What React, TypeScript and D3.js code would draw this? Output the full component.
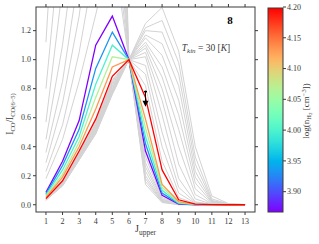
import React from "react";
import * as d3 from "d3";

// CO ladder, normalised to the 6-5 line
const jUpper = [1, 2, 3, 4, 5, 6, 7, 8, 9, 10, 11, 12, 13];
const yTicks = [0, 0.2, 0.4, 0.6, 0.8, 1.0, 1.2];
const cbarTicks = [3.9, 3.95, 4.0, 4.05, 4.1, 4.15, 4.2];

// log(n_H2) of the coloured models
const logDensity = [3.867, 3.933, 4.0, 4.067, 4.133, 4.2];

const colouredLadders = [
  [0.085, 0.3, 0.58, 1.1, 1.3, 1.0, 0.37, 0.065, 0.005, 0.001, 0.0005, 0, 0],
  [0.075, 0.27, 0.52, 0.94, 1.19, 1.0, 0.42, 0.08, 0.008, 0.001, 0.0005, 0, 0],
  [0.066, 0.24, 0.47, 0.83, 1.1, 1.0, 0.47, 0.1, 0.012, 0.002, 0.0005, 0, 0],
  [0.058, 0.21, 0.43, 0.74, 1.02, 1.0, 0.53, 0.12, 0.016, 0.002, 0.0005, 0, 0],
  [0.05, 0.19, 0.4, 0.66, 0.95, 1.0, 0.59, 0.14, 0.022, 0.003, 0.0008, 0, 0],
  [0.042, 0.165, 0.37, 0.59, 0.885, 1.0, 0.74, 0.24, 0.034, 0.004, 0.001, 0, 0],
];

// the rest of the grid, drawn in grey
const greyLadders = [
  [1.12, 3.0, 5.0, 6.0, 5.0, 1.0, 0.14, 0.015, 0.001, 0, 0, 0, 0],
  [0.8, 2.0, 3.6, 4.5, 4.2, 1.0, 0.16, 0.02, 0.001, 0, 0, 0, 0],
  [0.57, 1.5, 3.0, 3.8, 3.6, 1.0, 0.18, 0.022, 0.002, 0, 0, 0, 0],
  [0.45, 1.1, 2.0, 3.0, 3.0, 1.0, 0.2, 0.025, 0.002, 0, 0, 0, 0],
  [0.36, 0.85, 1.6, 2.4, 2.6, 1.0, 0.23, 0.03, 0.003, 0, 0, 0, 0],
  [0.29, 0.7, 1.3, 2.2, 2.3, 1.0, 0.26, 0.035, 0.003, 0, 0, 0, 0],
  [0.23, 0.55, 1.05, 1.7, 2.0, 1.0, 0.29, 0.04, 0.004, 0, 0, 0, 0],
  [0.18, 0.45, 0.85, 1.31, 1.8, 1.0, 0.33, 0.05, 0.004, 0, 0, 0, 0],
  [0.04, 0.158, 0.36, 0.57, 0.86, 1.0, 0.82, 0.3, 0.05, 0.006, 0.001, 0, 0],
  [0.039, 0.155, 0.355, 0.56, 0.85, 1.0, 0.9, 0.4, 0.08, 0.01, 0.002, 0, 0],
  [0.038, 0.152, 0.35, 0.55, 0.84, 1.0, 0.96, 0.5, 0.12, 0.015, 0.002, 0, 0],
  [0.037, 0.149, 0.345, 0.545, 0.83, 1.0, 1.02, 0.62, 0.18, 0.02, 0.003, 0.001, 0],
  [0.036, 0.146, 0.34, 0.535, 0.82, 1.0, 1.05, 0.72, 0.28, 0.04, 0.005, 0.001, 0],
  [0.036, 0.143, 0.335, 0.53, 0.81, 1.0, 1.08, 0.8, 0.4, 0.07, 0.008, 0.001, 0],
  [0.035, 0.141, 0.33, 0.52, 0.8, 1.0, 1.1, 0.88, 0.52, 0.11, 0.012, 0.002, 0],
  [0.034, 0.139, 0.325, 0.515, 0.79, 1.0, 1.12, 0.95, 0.62, 0.15, 0.016, 0.002, 0],
  [0.034, 0.137, 0.32, 0.51, 0.785, 1.0, 1.15, 1.03, 0.72, 0.19, 0.02, 0.003, 0],
  [0.033, 0.135, 0.315, 0.5, 0.775, 1.0, 1.17, 1.11, 0.82, 0.23, 0.025, 0.004, 0.001],
  [0.033, 0.133, 0.312, 0.495, 0.77, 1.0, 1.2, 1.19, 0.9, 0.28, 0.03, 0.005, 0.001],
  [0.032, 0.131, 0.31, 0.49, 0.765, 1.0, 1.22, 1.27, 0.98, 0.33, 0.04, 0.006, 0.001],
  [0.032, 0.13, 0.308, 0.488, 0.76, 1.0, 1.25, 1.36, 1.06, 0.4, 0.06, 0.008, 0.001],
];

// observed ratio at J=7 (upper limit)
const obsJ = [7];
const obsTop = [0.78];
const obsTip = [0.675];

const W = 319;
const H = 244;
const M = { left: 36, right: 255, top: 7, bottom: 212 };
const CB = { x0: 268, x1: 283 };
const FONT = "'Liberation Serif', 'DejaVu Serif', serif";
const INK = "#3a3a3a";

// matplotlib "rainbow"
function rainbow(t: number) {
  const r = Math.min(1, Math.abs(2 * t - 0.5));
  const g = Math.sin(Math.PI * t);
  const b = Math.cos((Math.PI * t) / 2);
  return d3.rgb(r * 255, g * 255, b * 255).formatHex();
}

export default function App() {
  const x = d3.scaleLinear().domain([0.4, 13.6]).range([M.left, M.right]);
  const y = d3.scaleLinear().domain([-0.05, 1.363]).range([M.bottom, M.top]);
  const c = d3.scaleLinear().domain([3.867, 4.2]).range([M.bottom, M.top]);
  const cNorm = d3.scaleLinear().domain([3.867, 4.2]).range([0, 1]);

  const line = d3
    .line<number>()
    .x((_, i) => x(jUpper[i]))
    .y((d) => y(d));

  const stops = d3.range(0, 1.0001, 0.05);

  return (
    <svg
      width={W}
      height={H}
      style={{ position: "absolute", left: 0, top: 0, background: "#fff" }}
      fontFamily={FONT}
    >
      <defs>
        <clipPath id="plot">
          <rect x={M.left} y={M.top} width={M.right - M.left} height={M.bottom - M.top} />
        </clipPath>
        <linearGradient id="cbar" x1="0" y1="1" x2="0" y2="0">
          {stops.map((s) => (
            <stop key={s} offset={s} stopColor={rainbow(s)} />
          ))}
        </linearGradient>
      </defs>

      <g clipPath="url(#plot)" fill="none">
        {greyLadders.map((d, i) => (
          <path key={i} d={line(d) || ""} stroke="#d3d3d3" strokeWidth={1} />
        ))}
        {colouredLadders.map((d, i) => (
          <path key={i} d={line(d) || ""} stroke={rainbow(cNorm(logDensity[i]))} strokeWidth={1.3} />
        ))}
      </g>

      {obsJ.map((j, i) => (
        <g key={i}>
          <line x1={x(j)} x2={x(j)} y1={y(obsTop[i])} y2={y(obsTip[i]) - 4} stroke="#000" strokeWidth={1} />
          <line x1={x(j) - 1.5} x2={x(j) + 1.5} y1={y(obsTop[i])} y2={y(obsTop[i])} stroke="#000" strokeWidth={1.2} />
          <circle cx={x(j)} cy={y(obsTop[i])} r={1.2} fill="#000" />
          <path
            d={`M${x(j) - 3},${y(obsTip[i]) - 6} L${x(j) + 3},${y(obsTip[i]) - 6} L${x(j)},${y(obsTip[i])} Z`}
            fill="#000"
          />
        </g>
      ))}

      {/* frame */}
      <rect
        x={M.left}
        y={M.top}
        width={M.right - M.left}
        height={M.bottom - M.top}
        fill="none"
        stroke={INK}
        strokeWidth={1}
      />

      {jUpper.map((j) => (
        <g key={j}>
          <line x1={x(j)} x2={x(j)} y1={M.bottom} y2={M.bottom + 3} stroke={INK} />
          <line x1={x(j)} x2={x(j)} y1={M.top} y2={M.top - 3} stroke={INK} />
          <text x={x(j)} y={M.bottom + 12} textAnchor="middle" fontSize={8} fill={INK}>
            {j}
          </text>
        </g>
      ))}

      {yTicks.map((t) => (
        <g key={t}>
          <line x1={M.left} x2={M.left - 3} y1={y(t)} y2={y(t)} stroke={INK} />
          <line x1={M.right} x2={M.right + 3} y1={y(t)} y2={y(t)} stroke={INK} />
          <text x={M.left - 5} y={y(t) + 2.8} textAnchor="end" fontSize={8} fill={INK}>
            {t.toFixed(1)}
          </text>
        </g>
      ))}

      <text x={x(7.0)} y={232} textAnchor="middle" fontSize={10} fill={INK}>
        J<tspan fontSize={7.5} dy={2.5}>upper</tspan>
      </text>

      <text transform={`translate(13,${114}) rotate(-90)`} textAnchor="middle" fontSize={9.5} fill={INK}>
        I<tspan fontSize={6.5} dy={2}>CO</tspan>
        <tspan dy={-2}>/I</tspan>
        <tspan fontSize={6.5} dy={2}>CO(6−5)</tspan>
      </text>

      <text x={230} y={24} textAnchor="middle" fontSize={11} fontWeight="bold" fill="#000">
        8
      </text>

      <text x={206} y={51} textAnchor="middle" fontSize={9.5} fill={INK}>
        <tspan fontStyle="italic">T</tspan>
        <tspan fontSize={7} fontStyle="italic" dy={2}>kin</tspan>
        <tspan dy={-2}> = 30 [</tspan>
        <tspan fontStyle="italic">K</tspan>
        <tspan>]</tspan>
      </text>

      {/* colorbar */}
      <rect x={CB.x0} y={M.top + 1} width={CB.x1 - CB.x0} height={M.bottom - M.top - 1} fill="url(#cbar)" stroke={INK} strokeWidth={1} />
      {cbarTicks.map((t) => (
        <g key={t}>
          <line x1={CB.x1} x2={CB.x1 + 3} y1={c(t)} y2={c(t)} stroke={INK} />
          <text x={CB.x1 + 4} y={c(t) + 2.8} fontSize={8} fill={INK}>
            {t.toFixed(2)}
          </text>
        </g>
      ))}
      <text transform={`translate(309,${111}) rotate(-90)`} textAnchor="middle" fontSize={9} fill={INK}>
        log(n<tspan fontSize={6.5} dy={2}>H</tspan>
        <tspan fontSize={5} dy={1}>2</tspan>
        <tspan dy={-3}> [cm</tspan>
        <tspan fontSize={6.5} dy={-3}>−3</tspan>
        <tspan dy={3}>])</tspan>
      </text>
    </svg>
  );
}
